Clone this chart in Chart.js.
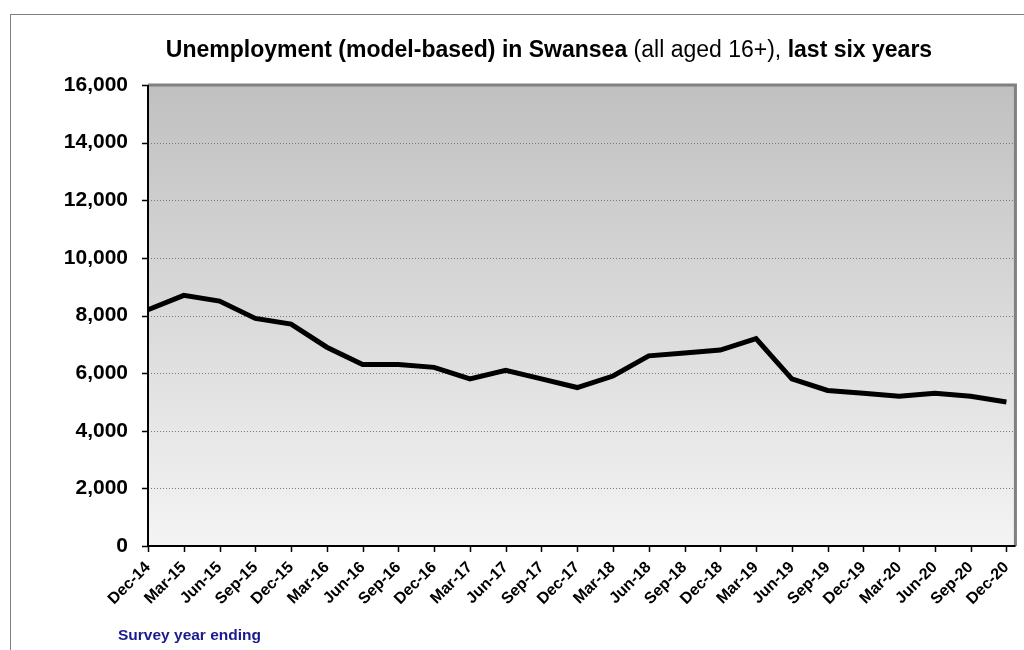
<!DOCTYPE html>
<html>
<head>
<meta charset="utf-8">
<script src="https://cdn.jsdelivr.net/npm/chart.js@4.4.0/dist/chart.umd.min.js"></script>
<style>
  html,body{margin:0;padding:0;background:#fff;overflow:hidden;}
  #wrap{position:relative;width:1024px;height:650px;}
  #frame{position:absolute;left:10px;top:14px;width:1030px;height:660px;border:1px solid #808080;box-sizing:border-box;}
  #ttl{position:absolute;left:0;width:1098px;top:36px;text-align:center;font:bold 23px "Liberation Sans",Arial,sans-serif;color:#000;white-space:nowrap;}
  #ttl span{font-weight:normal;}
  #xt{position:absolute;left:118px;top:626px;font:bold 15.5px "Liberation Sans",Arial,sans-serif;color:#1a1a8c;}
  canvas{position:absolute;left:0;top:0;}
</style>
</head>
<body>
<div id="wrap">
  <div id="frame"></div>
  <canvas id="line-chart" width="1024" height="650"></canvas>
  <div id="ttl">Unemployment (model-based) in Swansea <span>(all aged 16+),</span> last six years</div>
  <div id="xt">Survey year ending</div>
</div>
<script>
const quarters = ["Dec-14","Mar-15","Jun-15","Sep-15","Dec-15","Mar-16","Jun-16","Sep-16","Dec-16","Mar-17","Jun-17","Sep-17","Dec-17","Mar-18","Jun-18","Sep-18","Dec-18","Mar-19","Jun-19","Sep-19","Dec-19","Mar-20","Jun-20","Sep-20","Dec-20"];
const unemployed = [8200,8700,8500,7900,7700,6900,6300,6300,6200,5800,6100,5800,5500,5900,6600,6700,6800,7200,5800,5400,5300,5200,5300,5200,5000];
const yMin = 0, yMax = 16000, yStep = 2000;

const font = "'Liberation Sans', Arial, sans-serif";
const extraRight = 9; // plot frame goes a little past the last category

const plotDeco = {
  id: "plotDeco",
  beforeDatasetsDraw(chart) {
    const {ctx, chartArea: a, scales} = chart;
    const r = a.right + extraRight;
    const g = ctx.createLinearGradient(0, a.top, 0, a.bottom);
    g.addColorStop(0, "#c0c0c0");
    g.addColorStop(1, "#f4f4f4");
    ctx.save();
    ctx.fillStyle = g;
    ctx.fillRect(a.left, a.top, r - a.left, a.bottom - a.top);
    // dotted gridlines
    ctx.strokeStyle = "#7a7a7a";
    ctx.lineWidth = 1;
    ctx.setLineDash([1, 2]);
    ctx.beginPath();
    scales.y.ticks.forEach((t, i) => {
      const y = Math.round(scales.y.getPixelForTick(i)) + 0.5;
      ctx.moveTo(a.left, y); ctx.lineTo(r, y);
    });
    ctx.stroke();
    ctx.restore();
  },
  afterDatasetsDraw(chart) {
    const {ctx, chartArea: a, scales} = chart;
    const r = a.right + extraRight;
    ctx.save();
    ctx.strokeStyle = "#808080";
    ctx.lineWidth = 3;
    ctx.beginPath();
    ctx.moveTo(a.left, a.top); ctx.lineTo(r, a.top); ctx.lineTo(r, a.bottom);
    ctx.stroke();
    ctx.strokeStyle = "#000";
    ctx.lineWidth = 2;
    ctx.beginPath();
    ctx.moveTo(a.left, a.top); ctx.lineTo(a.left, a.bottom); ctx.lineTo(r, a.bottom);
    ctx.stroke();
    ctx.lineWidth = 1.5;
    ctx.beginPath();
    scales.y.ticks.forEach((t, i) => {
      const y = Math.round(scales.y.getPixelForTick(i)) + 0.5;
      ctx.moveTo(a.left - 6, y); ctx.lineTo(a.left, y);
    });
    quarters.forEach((q, i) => {
      const x = Math.round(scales.x.getPixelForValue(i)) + 0.5;
      ctx.moveTo(x, a.bottom); ctx.lineTo(x, a.bottom + 6);
    });
    ctx.stroke();
    ctx.restore();
  }
};

new Chart(document.getElementById("line-chart"), {
  type: "line",
  data: {
    labels: quarters,
    datasets: [{
      data: unemployed,
      borderColor: "#000",
      borderWidth: 5,
      pointRadius: 0,
      tension: 0,
      fill: false
    }]
  },
  options: {
    responsive: false,
    animation: false,
    layout: {padding: {top: 85, right: 6, left: 0, bottom: 0}},
    plugins: {
      legend: {display: false},
      title: {display: false},
      tooltip: {enabled: false}
    },
    scales: {
      y: {
        min: yMin, max: yMax,
        afterFit(s) { s.width = 148; },
        border: {display: false},
        grid: {display: false, drawTicks: false},
        ticks: {
          stepSize: yStep,
          padding: 20,
          color: "#000",
          font: {family: font, size: 21, weight: "bold"},
          callback: v => v.toLocaleString("en-GB")
        }
      },
      x: {
        offset: false,
        afterFit(s) { s.height = 104; },
        border: {display: false},
        grid: {display: false},
        ticks: {
          autoSkip: false,
          maxRotation: 45, minRotation: 45,
          padding: 4,
          color: "#000",
          font: {family: font, size: 16, weight: "bold"}
        }
      }
    }
  },
  plugins: [plotDeco]
});
</script>
</body>
</html>
